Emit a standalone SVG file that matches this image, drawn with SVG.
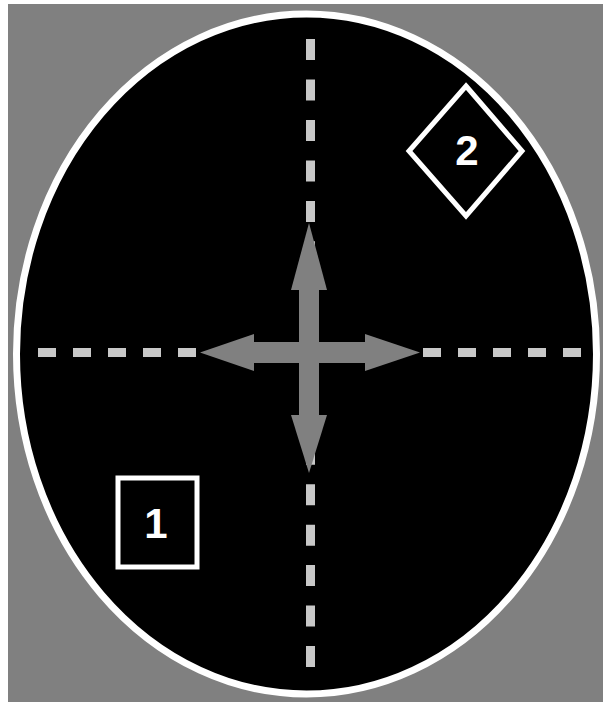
<svg xmlns="http://www.w3.org/2000/svg" width="603" height="702" viewBox="0 0 603 702">
  <style>
    .dash { stroke: #c8c8c8; stroke-width: 9; fill: none; }
    .arrow { fill: #808080; }
    .frame { fill: #000; stroke: #fff; stroke-width: 5; }
    .lbl { font-family: "Liberation Sans", Arial, sans-serif; font-weight: bold; font-size: 42px; fill: #fff; text-anchor: middle; }
  </style>
  <rect x="0" y="0" width="603" height="702" fill="#fff"/>
  <rect x="8" y="4" width="595" height="698" fill="#808080"/>
  <ellipse id="field" cx="306.5" cy="354" rx="290" ry="340" fill="#000" stroke="#fff" stroke-width="7"/>
  <g id="connectors">
    <line class="dash" x1="310.5" y1="39" x2="310.5" y2="667" stroke-dasharray="21 19.47"/>
    <line class="dash" x1="38" y1="352.5" x2="581" y2="352.5" stroke-width="10" stroke-dasharray="18 17"/>
    <g id="cross" class="arrow">
      <rect x="299" y="285" width="20" height="135"/>
      <rect x="250" y="342" width="120" height="21"/>
      <polygon points="309,223 327,290 291,290"/>
      <polygon points="309,473 327,415 291,415"/>
      <polygon points="200,352.5 254,334 254,371"/>
      <polygon points="420,352.5 365,334 365,371"/>
    </g>
  </g>
  <g id="node1">
    <rect class="frame" x="118" y="478" width="79" height="89"/>
    <text class="lbl" x="156" y="538">1</text>
  </g>
  <g id="node2">
    <polygon class="frame" points="466,86 522,151 466,216 409,151"/>
    <text class="lbl" x="467" y="165">2</text>
  </g>
</svg>
